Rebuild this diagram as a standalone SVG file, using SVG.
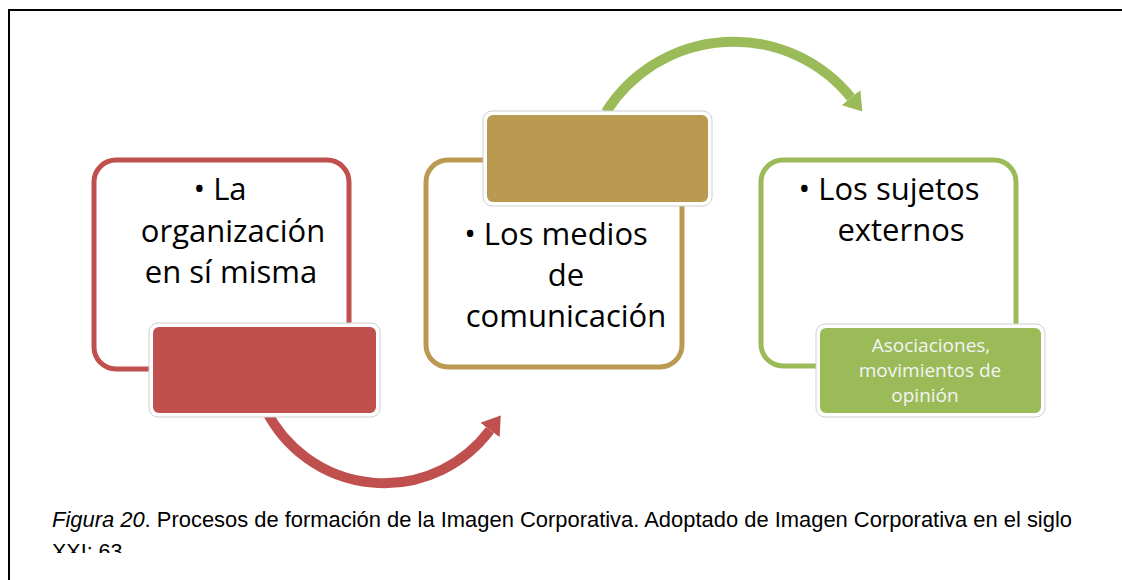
<svg xmlns="http://www.w3.org/2000/svg" width="1122" height="580" viewBox="0 0 1122 580">
<defs>
<style>
.frame{fill:none;stroke:#000;stroke-width:2}
.outer{fill:#fff;stroke-width:5}
.halo{fill:#fff;stroke:#cfcfcf;stroke-width:1}
.main{font-family:"Open Sans","Noto Sans",sans-serif;font-size:31px;fill:#000;text-anchor:middle}
.lab{font-family:"Open Sans","Noto Sans",sans-serif;font-size:19px;fill:#f4f4f4;text-anchor:middle}
.cap{font-family:"Liberation Sans",Arial,sans-serif;font-size:21.5px;fill:#000}
.arc{fill:none;stroke-width:10}
</style>
<marker id="hr" viewBox="0 -12 18 24" refX="0" refY="0" markerWidth="18" markerHeight="24" markerUnits="userSpaceOnUse" orient="auto"><path d="M0,-12 L18,0 L0,12 z" fill="#C0504D"/></marker>
<marker id="hg" viewBox="0 -12 18 24" refX="0" refY="0" markerWidth="18" markerHeight="24" markerUnits="userSpaceOnUse" orient="auto"><path d="M0,-12 L18,0 L0,12 z" fill="#9BBB59"/></marker>
<clipPath id="capclip"><rect x="0" y="0" width="1122" height="553"/></clipPath>
</defs>
<rect x="0" y="0" width="1122" height="580" fill="#fff"/>
<path class="frame" d="M9,580 V10 H1122"/>
<g id="connectors">
<path class="arc" stroke="#C0504D" marker-end="url(#hr)" d="M266,410 A132,132 0 0 0 490,430"/>
<path class="arc" stroke="#9BBB59" marker-end="url(#hg)" d="M606,112 A151,151 0 0 1 851,97.6"/>
</g>
<g id="node-organizacion">
<rect class="outer" x="94" y="160" width="255" height="209" rx="22" stroke="#C0504D"/>
<rect class="halo" x="149" y="323" width="231" height="94" rx="9"/>
<rect x="153" y="327" width="223" height="86" rx="6" fill="#C0504D"/>
<text class="main"><tspan x="220" y="200">• La</tspan><tspan x="233" y="242">organización</tspan><tspan x="231" y="283">en sí misma</tspan></text>
</g>
<g id="node-medios">
<rect class="outer" x="426" y="160" width="256" height="207" rx="22" stroke="#BA9A50"/>
<rect class="halo" x="483" y="111" width="229" height="95" rx="9"/>
<rect x="487" y="115" width="221" height="87" rx="6" fill="#BA9A50"/>
<text class="main"><tspan x="556" y="245">• Los medios</tspan><tspan x="566" y="286">de</tspan><tspan x="566" y="327">comunicación</tspan></text>
</g>
<g id="node-sujetos">
<rect class="outer" x="761" y="160" width="255" height="206" rx="22" stroke="#9BBB59"/>
<rect class="halo" x="816" y="324" width="229" height="93" rx="9"/>
<rect x="820" y="328" width="221" height="85" rx="6" fill="#9BBB59"/>
<text class="main"><tspan x="889" y="200">• Los sujetos</tspan><tspan x="901" y="241">externos</tspan></text>
<text class="lab"><tspan x="931" y="352">Asociaciones,</tspan><tspan x="930" y="377">movimientos de</tspan><tspan x="925" y="402">opinión</tspan></text>
</g>
<g id="caption" clip-path="url(#capclip)">
<text class="cap" x="52" y="527" textLength="1020" lengthAdjust="spacingAndGlyphs"><tspan font-style="italic">Figura 20</tspan>. Procesos de formación de la Imagen Corporativa. Adoptado de Imagen Corporativa en el siglo</text>
<text class="cap" x="52" y="559">XXI: 63</text>
</g>
</svg>
